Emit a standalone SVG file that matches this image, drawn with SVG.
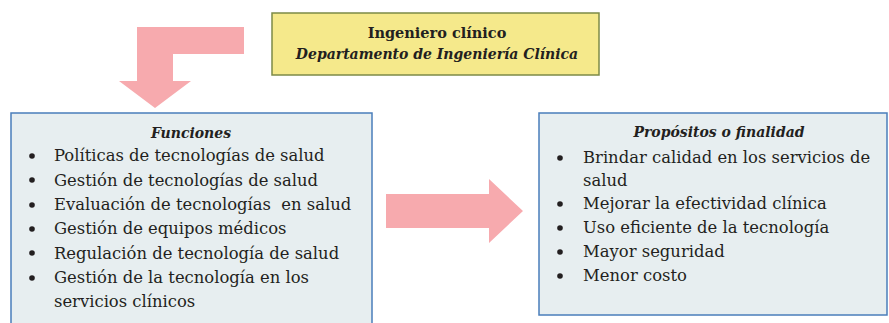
<svg xmlns="http://www.w3.org/2000/svg" width="889" height="323" viewBox="0 0 889 323">
<style>
.arrow{fill:#F7AAAE}
.box{fill:#E7EEF0;stroke:#4A7EBB;stroke-width:1.5}
.hdr{fill:#F5E98B;stroke:#7C8A47;stroke-width:1.5}
text{font-family:"DejaVu Serif","Liberation Serif",serif;fill:#231F20}
.t{font-size:16.4px}
.h{font-size:14px;font-weight:bold;font-style:italic}
.b{font-size:14.5px;font-weight:bold}
.c{text-anchor:middle}
</style>
<rect width="889" height="323" fill="#FFFFFF"/>
<g id="connectors">
<polygon class="arrow" points="137,27 244,27 244,54 173,54 173,81 191,81 155,108 119,81 137,81"/>
<polygon class="arrow" points="386,194 489,194 489,179 523,211 489,243 489,228 386,228"/>
</g>
<g id="header">
<rect class="hdr" x="272" y="13" width="327" height="62"/>
<text class="b c" x="437" y="38">Ingeniero clínico</text>
<text class="h c" x="437" y="59">Departamento de Ingeniería Clínica</text>
</g>
<g id="funciones">
<rect class="box" x="11" y="113" width="361" height="220"/>
<text class="h c" x="191" y="138">Funciones</text>
<g class="t">
<circle cx="32" cy="156" r="2.8" fill="#231F20"/>
<text x="54" y="161">Políticas de tecnologías de salud</text>
<circle cx="32" cy="180" r="2.8" fill="#231F20"/>
<text x="54" y="186">Gestión de tecnologías de salud</text>
<circle cx="32" cy="205" r="2.8" fill="#231F20"/>
<text x="54" y="210" xml:space="preserve">Evaluación de tecnologías  en salud</text>
<circle cx="32" cy="229" r="2.8" fill="#231F20"/>
<text x="54" y="234">Gestión de equipos médicos</text>
<circle cx="32" cy="253" r="2.8" fill="#231F20"/>
<text x="54" y="259">Regulación de tecnología de salud</text>
<circle cx="32" cy="278" r="2.8" fill="#231F20"/>
<text x="54" y="283">Gestión de la tecnología en los</text>
<text x="54" y="307">servicios clínicos</text>
</g>
</g>
<g id="propositos">
<rect class="box" x="539" y="113" width="348" height="202"/>
<text class="h c" x="719" y="137">Propósitos o finalidad</text>
<g class="t">
<circle cx="560" cy="158" r="2.8" fill="#231F20"/>
<text x="583" y="163">Brindar calidad en los servicios de</text>
<text x="583" y="186">salud</text>
<circle cx="560" cy="204" r="2.8" fill="#231F20"/>
<text x="583" y="209">Mejorar la efectividad clínica</text>
<circle cx="560" cy="228" r="2.8" fill="#231F20"/>
<text x="583" y="233">Uso eficiente de la tecnología</text>
<circle cx="560" cy="252" r="2.8" fill="#231F20"/>
<text x="583" y="257">Mayor seguridad</text>
<circle cx="560" cy="276" r="2.8" fill="#231F20"/>
<text x="583" y="281">Menor costo</text>
</g>
</g>
</svg>
